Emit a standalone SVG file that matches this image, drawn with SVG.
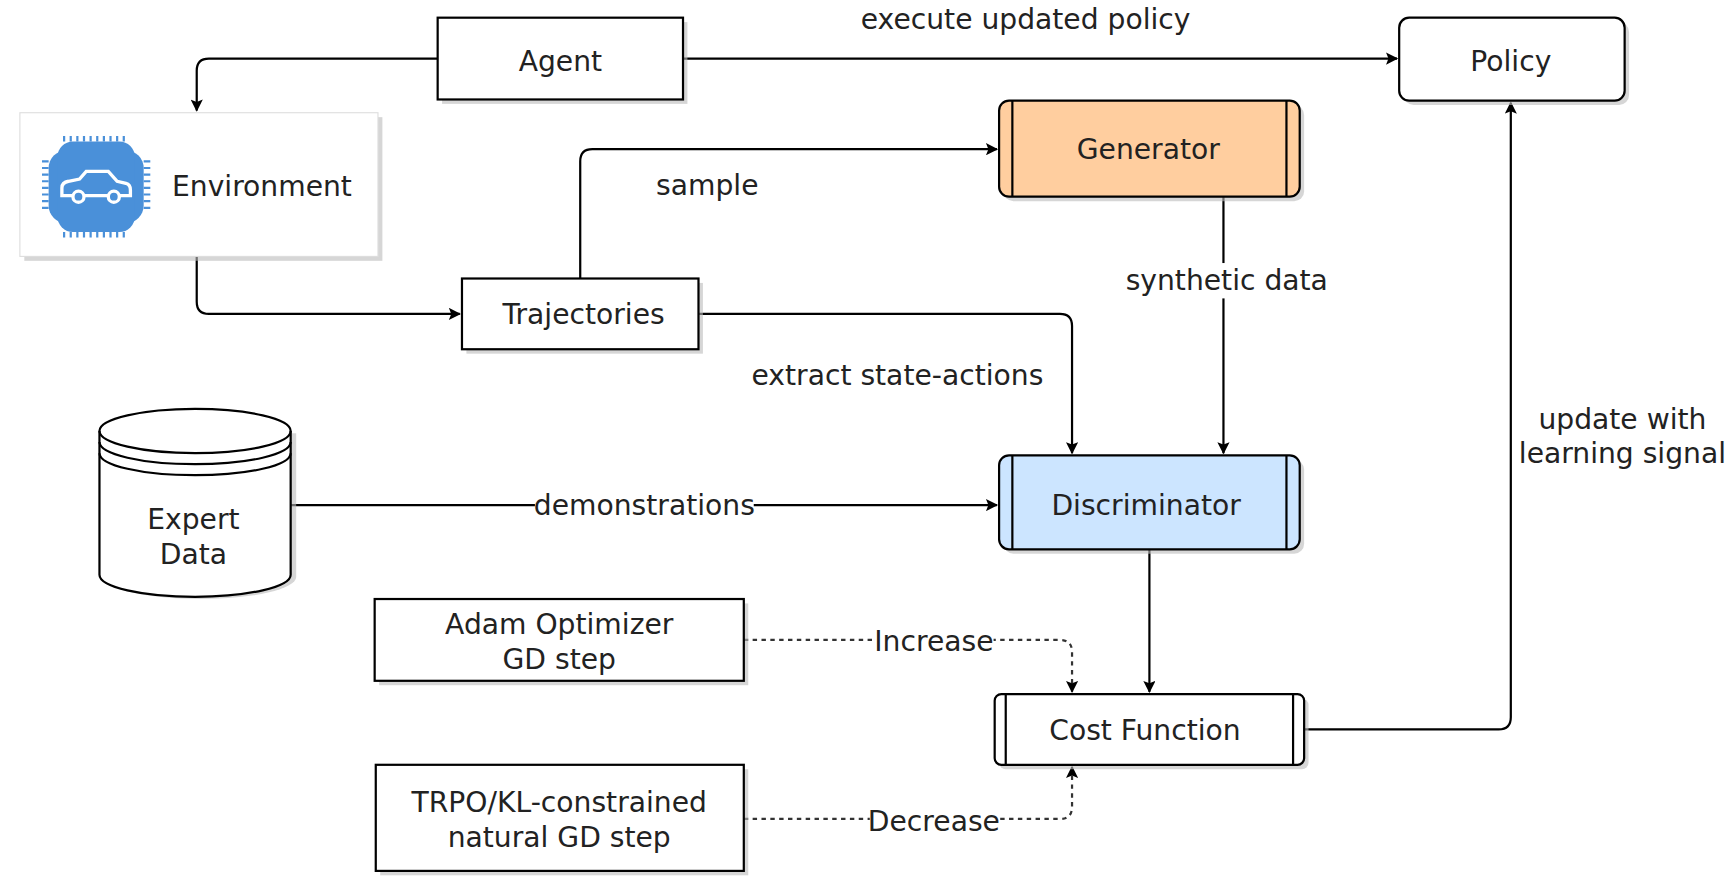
<svg xmlns="http://www.w3.org/2000/svg" width="1733" height="891" viewBox="0 0 1733 891">
<defs>
<style>
text{font-family:"DejaVu Sans",Verdana,sans-serif;font-size:25.5px;fill:#222;text-anchor:middle;dominant-baseline:central}
.box{fill:#fff;stroke:#000;stroke-width:2}
.sh{fill:#bbb;opacity:.6}
.c{fill:none;stroke:#000;stroke-width:2}
.d{fill:none;stroke:#333;stroke-width:2;stroke-dasharray:4 4}
.lb{fill:#fff}
</style>
<marker id="a" viewBox="0 0 10 10" refX="9" refY="5" markerWidth="12" markerHeight="11" markerUnits="userSpaceOnUse" orient="auto"><path d="M0,0 L10,5 L0,10 L2,5 Z" fill="#000"/></marker>
</defs>
<rect width="1733" height="891" fill="#fff"/>
<g transform="scale(1.1052)">
<g id="connectors">
<path class="c" d="M396,53 H189 Q178,53 178,64 V100" marker-end="url(#a)"/>
<path class="c" d="M618,53 H1264" marker-end="url(#a)"/>
<text x="928" y="18">execute updated policy</text>
<path class="c" d="M178,232 V273 Q178,284 189,284 H416" marker-end="url(#a)"/>
<path class="c" d="M525,252 V146 Q525,135 536,135 H902" marker-end="url(#a)"/>
<text x="640" y="168">sample</text>
<path class="c" d="M632,284 H959 Q970,284 970,295 V410" marker-end="url(#a)"/>
<text x="812" y="340">extract state-actions</text>
<path class="c" d="M1107,178 V410" marker-end="url(#a)"/>
<rect class="lb" x="1020" y="238" width="180" height="32"/>
<text x="1110" y="254">synthetic data</text>
<path class="c" d="M263,457 H902" marker-end="url(#a)"/>
<rect class="lb" x="484" y="443" width="198" height="28"/>
<text x="583" y="457">demonstrations</text>
<path class="c" d="M1040,497 V626" marker-end="url(#a)"/>
<path class="d" d="M673,579 H959 Q970,579 970,590 V626" marker-end="url(#a)"/>
<rect class="lb" x="791" y="566" width="108" height="28"/>
<text x="845" y="580">Increase</text>
<path class="d" d="M673,741 H959 Q970,741 970,730 V694" marker-end="url(#a)"/>
<rect class="lb" x="787" y="729" width="116" height="28"/>
<text x="845" y="743">Decrease</text>
<path class="c" d="M1180,660 H1356 Q1367,660 1367,649 V93" marker-end="url(#a)"/>
<text x="1468" y="380">update with</text>
<text x="1468" y="410">learning signal</text>
</g>
<g id="agent"><rect class="sh" x="400" y="20" width="222" height="74"/><rect class="box" x="396" y="16" width="222" height="74"/><text x="507" y="56">Agent</text></g>
<g id="policy"><rect class="sh" x="1270" y="20" width="204" height="75" rx="9"/><rect class="box" x="1266" y="16" width="204" height="75" rx="9"/><text x="1367" y="56">Policy</text></g>
<g id="environment"><rect class="sh" x="22" y="106" width="324" height="130"/><rect x="18" y="102" width="324" height="130" fill="#fff" stroke="#ddd" stroke-width="1"/>
<g fill="#4a90d9"><rect x="44" y="136" width="86" height="66" rx="16"/><rect x="52" y="128" width="70" height="82" rx="14"/>
<path d="M58,128 V123 M64,128 V123 M70,128 V123 M76,128 V123 M82,128 V123 M88,128 V123 M94,128 V123 M100,128 V123 M106,128 V123 M112,128 V123 M58,210 V215 M64,210 V215 M70,210 V215 M76,210 V215 M82,210 V215 M88,210 V215 M94,210 V215 M100,210 V215 M106,210 V215 M112,210 V215 M44,146 H38 M44,152 H38 M44,158 H38 M44,164 H38 M44,170 H38 M44,176 H38 M44,182 H38 M44,188 H38 M130,146 H136 M130,152 H136 M130,158 H136 M130,164 H136 M130,170 H136 M130,176 H136 M130,182 H136 M130,188 H136" stroke="#4a90d9" stroke-width="2"/></g>
<path d="M56,177 V170 Q56,165 62,164 L72,162 L78,155 H98 L106,164 L114,166 Q118,167 118,172 V177 Z" fill="none" stroke="#fff" stroke-width="3"/>
<circle cx="71" cy="178" r="5" fill="#4a90d9" stroke="#fff" stroke-width="3"/><circle cx="103" cy="178" r="5" fill="#4a90d9" stroke="#fff" stroke-width="3"/>
<text x="237" y="169">Environment</text></g>
<g id="generator"><rect class="sh" x="908" y="95" width="272" height="87" rx="9"/><rect x="904" y="91" width="272" height="87" rx="9" fill="#ffce9f" stroke="#000" stroke-width="2"/><path class="c" d="M916,91 V178 M1164,91 V178" stroke-width="1.5"/><text x="1039" y="135">Generator</text></g>
<g id="trajectories"><rect class="sh" x="422" y="256" width="214" height="64"/><rect class="box" x="418" y="252" width="214" height="64"/><text x="528" y="285">Trajectories</text></g>
<g id="discriminator"><rect class="sh" x="908" y="416" width="272" height="85" rx="9"/><rect x="904" y="412" width="272" height="85" rx="9" fill="#cce5ff" stroke="#000" stroke-width="2"/><path class="c" d="M916,412 V497 M1164,412 V497" stroke-width="1.5"/><text x="1037" y="457">Discriminator</text></g>
<g id="expert-data"><path d="M94,392 V522 A87,20 0 0 0 268,522 V392 Z" class="sh"/>
<path d="M90,390 V520 A86.5,20 0 0 0 263,520 V390 A86.5,20 0 0 0 90,390 Z" class="box"/>
<path class="c" d="M90,390 A86.5,20 0 0 0 263,390 M90,400 A86.5,20 0 0 0 263,400 M90,410 A86.5,20 0 0 0 263,410"/>
<text x="175" y="470">Expert</text><text x="175" y="502">Data</text></g>
<g id="adam"><rect class="sh" x="343" y="546" width="334" height="74"/><rect class="box" x="339" y="542" width="334" height="74"/><text x="506" y="565">Adam Optimizer</text><text x="506" y="597">GD step</text></g>
<g id="cost-function"><rect class="sh" x="904" y="632" width="280" height="64" rx="6"/><rect class="box" x="900" y="628" width="280" height="64" rx="6"/><path class="c" d="M910,628 V692 M1170,628 V692" stroke-width="1"/><text x="1036" y="661">Cost Function</text></g>
<g id="trpo"><rect class="sh" x="344" y="696" width="333" height="96"/><rect class="box" x="340" y="692" width="333" height="96"/><text x="506" y="726">TRPO/KL-constrained</text><text x="506" y="758">natural GD step</text></g>
</g>
</svg>
